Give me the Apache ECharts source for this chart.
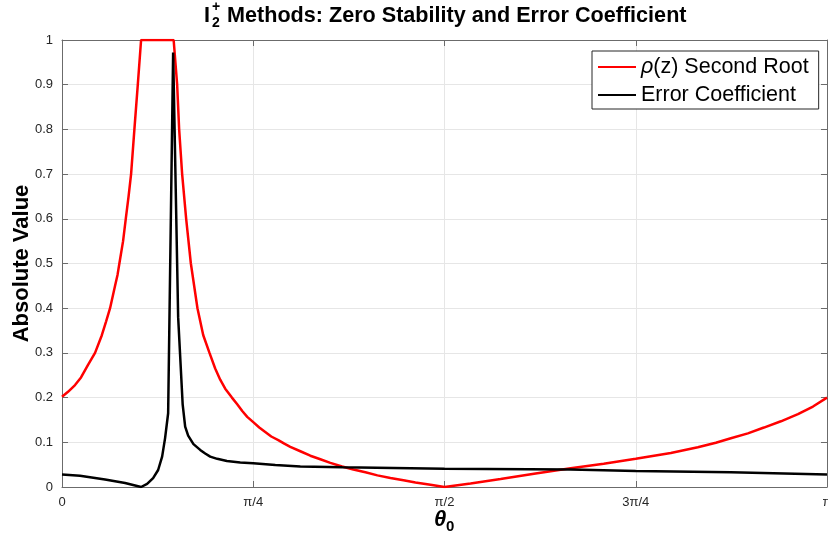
<!DOCTYPE html>
<html>
<head>
<meta charset="utf-8">
<script src="https://cdn.jsdelivr.net/npm/echarts@6/dist/echarts.min.js"></script>
<style>
html,body{margin:0;padding:0;background:#ffffff;}
#chart{width:828px;height:548px;}
</style>
</head>
<body>
<div id="chart"></div>
<script>
// ---- data (theta in radians) ----
const xTickLabels = ['0', 'π/4', 'π/2', '3π/4', 'π'];
const yTickStep = 0.1;

const rootName = 'ρ(z) Second Root';
const errName = 'Error Coefficient';

const rootTheta = [0, 0.0247, 0.0535, 0.0781, 0.1069, 0.1357, 0.1632, 0.1809, 0.1974, 0.2097,
  0.2179, 0.2282, 0.2356, 0.2508, 0.2619, 0.2734, 0.2837, 0.2973, 0.3113, 0.3248,
  0.4585, 0.4729, 0.4811, 0.4934, 0.5099, 0.5292, 0.5563, 0.5798, 0.6057, 0.6291,
  0.6497, 0.6703, 0.6978, 0.7196, 0.7402, 0.7607, 0.7854, 0.8101, 0.8347, 0.8594,
  0.8882, 0.9129, 0.9375, 0.9787, 1.0198, 1.0609, 1.1020, 1.1501, 1.1966, 1.2459,
  1.2953, 1.3487, 1.4022, 1.4515, 1.5132, 1.5708, 1.6777, 1.8011, 1.9450, 2.0889,
  2.2246, 2.3562, 2.5001, 2.6111, 2.6851, 2.7468, 2.8167, 2.8825, 2.9524, 3.0223,
  3.0840, 3.1416];
const rootValue = [0.202, 0.213, 0.228, 0.245, 0.273, 0.300, 0.339, 0.370, 0.400, 0.430,
  0.450, 0.475, 0.500, 0.550, 0.600, 0.650, 0.700, 0.800, 0.900, 1.000,
  1.000, 0.900, 0.800, 0.700, 0.600, 0.500, 0.400, 0.340, 0.300, 0.265,
  0.240, 0.220, 0.200, 0.185, 0.170, 0.157, 0.145, 0.133, 0.123, 0.113,
  0.105, 0.097, 0.090, 0.080, 0.070, 0.062, 0.054, 0.046, 0.039, 0.033,
  0.026, 0.020, 0.015, 0.010, 0.005, 0.000, 0.008, 0.018, 0.030, 0.042,
  0.052, 0.063, 0.076, 0.089, 0.099, 0.109, 0.120, 0.133, 0.147, 0.163,
  0.180, 0.200];

const errTheta = [0, 0.0740, 0.1768, 0.2591, 0.3248, 0.3495, 0.3742, 0.3948, 0.4112, 0.4235,
  0.4359, 0.4564, 0.4770, 0.4955, 0.5058, 0.5181, 0.5399, 0.5675, 0.5880, 0.6086,
  0.6374, 0.6772, 0.7319, 0.7854, 0.8759, 0.9787, 1.1514, 1.5708, 2.0889, 2.3562,
  2.7468, 3.1416];
const errValue = [0.028, 0.025, 0.017, 0.009, 0.000, 0.007, 0.020, 0.038, 0.068, 0.110,
  0.165, 0.972, 0.380, 0.185, 0.135, 0.115, 0.096, 0.083, 0.075, 0.068,
  0.063, 0.058, 0.055, 0.053, 0.049, 0.046, 0.044, 0.041, 0.039, 0.036,
  0.033, 0.028];

// ---- chart ----
const chart = echarts.init(document.getElementById('chart'), null, {renderer: 'canvas'});
const PI = Math.PI;
const axisColor = '#6b6b6b';
const gridColor = '#e6e6e6';
const tickLabelColor = '#262626';
const fontFam = '"Liberation Sans", Arial, Helvetica, sans-serif';

function xLabel(v) {
  const idx = Math.round(v / (PI / 4));
  return xTickLabels[idx] !== undefined ? xTickLabels[idx] : '';
}

const option = {
  backgroundColor: '#ffffff',
  animation: false,
  grid: {left: 62, right: 1, top: 40, bottom: 61, containLabel: false, outerBoundsMode: 'none'},
  xAxis: [{
    type: 'value', min: 0, max: PI, interval: PI / 4,
    axisLine: {show: true, lineStyle: {color: axisColor, width: 1}},
    axisTick: {show: true, inside: true, length: 6, lineStyle: {color: axisColor}},
    axisLabel: {show: true, margin: 9, color: tickLabelColor, fontSize: 13, fontFamily: fontFam,
      formatter: xLabel, showMinLabel: true, showMaxLabel: true, hideOverlap: false},
    splitLine: {show: true, lineStyle: {color: gridColor, width: 1}}
  }, {
    type: 'value', position: 'top', min: 0, max: PI, interval: PI / 4,
    axisLine: {show: true, onZero: false, lineStyle: {color: axisColor, width: 1}},
    axisTick: {show: true, inside: true, length: 6, lineStyle: {color: axisColor}},
    axisLabel: {show: false}, splitLine: {show: false}
  }],
  yAxis: [{
    type: 'value', min: 0, max: 1, interval: yTickStep,
    name: 'Absolute Value', nameLocation: 'middle', nameGap: 29, nameMoveOverlap: false,
    nameTextStyle: {fontSize: 22, fontWeight: 'bold', color: '#000', fontFamily: fontFam},
    axisLine: {show: true, lineStyle: {color: axisColor, width: 1}},
    axisTick: {show: true, inside: true, length: 6, lineStyle: {color: axisColor}},
    axisLabel: {show: true, margin: 9, color: tickLabelColor, fontSize: 13, fontFamily: fontFam,
      formatter: v => String(Math.round(v * 10) / 10)},
    splitLine: {show: true, lineStyle: {color: gridColor, width: 1}}
  }, {
    type: 'value', position: 'right', min: 0, max: 1, interval: yTickStep,
    axisLine: {show: true, onZero: false, lineStyle: {color: axisColor, width: 1}},
    axisTick: {show: true, inside: true, length: 6, lineStyle: {color: axisColor}},
    axisLabel: {show: false}, splitLine: {show: false}
  }],
  legend: {
    orient: 'vertical', left: 592, top: 51,
    backgroundColor: '#ffffff', borderColor: '#262626', borderWidth: 1,
    padding: [5, 10, 3, 5], itemGap: 6, itemWidth: 38, itemHeight: 14,
    itemStyle: {opacity: 0},
    data: [rootName, errName],
    formatter: function (name) {
      if (name === rootName) return '{i|ρ}{n|(z) Second Root}';
      return '{n|' + name + '}';
    },
    textStyle: {
      color: '#000', fontSize: 21.5, fontFamily: fontFam, lineHeight: 18,
      rich: {
        i: {fontStyle: 'italic', fontSize: 21.5, fontFamily: fontFam, color: '#000', lineHeight: 18},
        n: {fontSize: 21.5, fontFamily: fontFam, color: '#000', lineHeight: 18}
      }
    }
  },
  series: [{
    name: rootName, type: 'line', xAxisIndex: 0, yAxisIndex: 0,
    symbol: 'none', showSymbol: false, smooth: false,
    lineStyle: {color: '#ff0000', width: 2.5}, itemStyle: {color: '#ff0000'},
    data: rootTheta.map((t, i) => [t, rootValue[i]])
  }, {
    name: errName, type: 'line', xAxisIndex: 0, yAxisIndex: 0,
    symbol: 'none', showSymbol: false, smooth: false,
    lineStyle: {color: '#000000', width: 2.5}, itemStyle: {color: '#000000'},
    data: errTheta.map((t, i) => [t, errValue[i]])
  }],
  graphic: [
    {type: 'text', left: 204, top: 5, style: {text: 'I', font: 'bold 21.6px ' + fontFam, fill: '#000'}},
    {type: 'text', left: 212, top: 0, style: {text: '+', font: 'bold 14px ' + fontFam, fill: '#000'}},
    {type: 'text', left: 212, top: 16, style: {text: '2', font: 'bold 14px ' + fontFam, fill: '#000'}},
    {type: 'text', left: 227, top: 5, style: {text: 'Methods: Zero Stability and Error Coefficient', font: 'bold 21.6px ' + fontFam, fill: '#000'}},
    {type: 'text', left: 434, top: 509, style: {text: 'θ', font: 'italic bold 22px ' + fontFam, fill: '#000'}},
    {type: 'text', left: 446, top: 519, style: {text: '0', font: 'bold 15px ' + fontFam, fill: '#000'}}
  ]
};
chart.setOption(option);
</script>
</body>
</html>
